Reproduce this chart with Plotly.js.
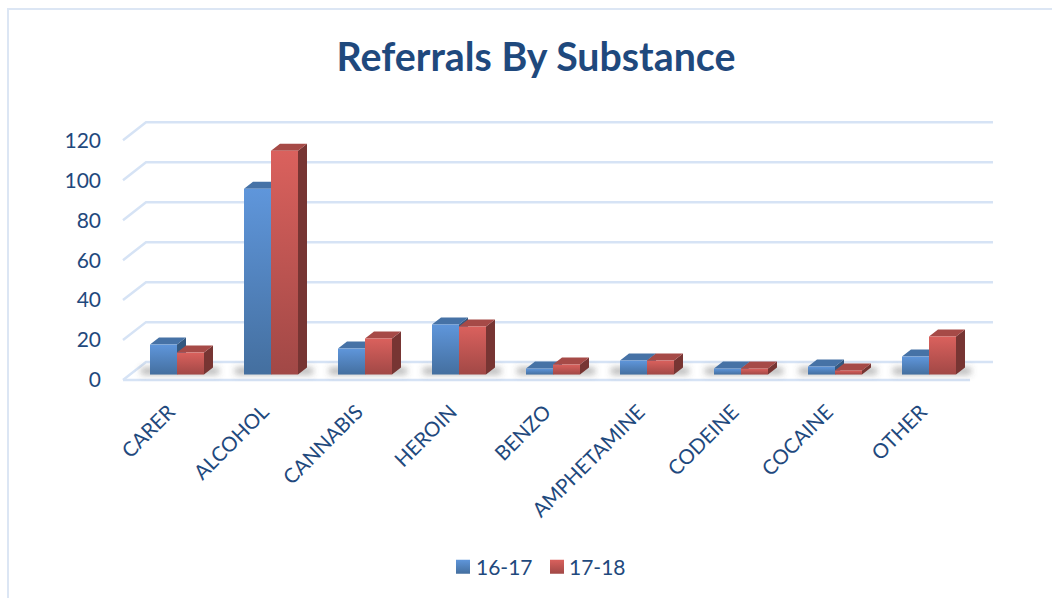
<!DOCTYPE html>
<html>
<head>
<meta charset="utf-8">
<script src="https://cdn.plot.ly/plotly-3.0.1.min.js"></script>
<style>
html,body{margin:0;padding:0;background:#fff;overflow:hidden}
#chart{position:absolute;left:0;top:0;width:1052px;height:598px}
#frame{position:absolute;left:7px;top:8px;right:0;bottom:0;border-top:2px solid #dce6f4;border-left:2px solid #dce6f4;pointer-events:none}
</style>
</head>
<body>
<div id="chart"></div>
<div id="frame"></div>
<script>
const categories = ["CARER","ALCOHOL","CANNABIS","HEROIN","BENZO","AMPHETAMINE","CODEINE","COCAINE","OTHER"];
const values1617 = [15,93,13,25,3,7,3,4,9];
const values1718 = [11,112,18,24,5,7,3,2,19];
const seriesNames = ["16-17","17-18"];
const yTicks = [0,20,40,60,80,100,120];

const W=1052,H=598;
const navy="#1f497d", gridCol="#d6e3f5";
const mL=102,mR=50,mT=100,mB=208;
const plotW=W-mL-mR, plotH=H-mT-mB;
const pxX=94, pxY=2.005;
const cx0=177;
const xr=[(mL-cx0)/pxX,(mL+plotW-cx0)/pxX];
function toX(px){return px/pxX;} function toY(px){return px/pxY;}
const bottomPx=mT+plotH;
function yRange(zeroPx){return [-(bottomPx-zeroPx)/pxY,(zeroPx-mT)/pxY];}
const w=toX(27), dx=toX(9), dy=toY(7);

function polys(vals,k,kind){
  const xs=[],ys=[];
  vals.forEach((v,i)=>{
    const L=i-w+k*w,R=L+w;
    if(kind==='top'){xs.push(L,R,R+dx,L+dx,L,null);ys.push(v,v,v+dy,v+dy,v,null);}
    else{xs.push(R,R,R+dx,R+dx,R,null);ys.push(0,v,v+dy,dy,0,null);}
  });
  return {x:xs,y:ys,type:'scatter',mode:'none',fill:'toself',yaxis:'y2',showlegend:false,hoverinfo:'skip'};
}
const traces=[];
const gx=[],gy=[];
const gLeft=toX(123-cx0), gBack=toX(146-cx0), gRight=toX(993-cx0), gFront=toX(970-cx0), gd=toY(18);
yTicks.forEach(t=>{gx.push(gLeft,gBack,gRight,null);gy.push(t,t+gd,t+gd,null);});
gx.push(gLeft,gFront,null);gy.push(0,0,null);
traces.push({x:gx,y:gy,type:'scatter',mode:'lines',line:{color:gridCol,width:2.5},showlegend:false,hoverinfo:'skip',yaxis:'y'});
// soft floor shadow (blurred after render)
const sx=[],sy=[];
categories.forEach((c,i)=>{sx.push(i-w-toX(9),i+w+toX(15),null);sy.push(toY(3.5),toY(3.5),null);});
traces.push({x:sx,y:sy,type:'scatter',mode:'lines',line:{color:'rgba(80,80,80,0.42)',width:7},showlegend:false,hoverinfo:'skip',yaxis:'y2'});
// depth faces
const a=polys(values1617,0,'side');a.fillcolor='#34587f';traces.push(a);
const b=polys(values1617,0,'top');b.fillcolor='#4672a6';traces.push(b);
const c=polys(values1718,1,'side');c.fillcolor='#773533';traces.push(c);
const d=polys(values1718,1,'top');d.fillcolor='#a64a47';traces.push(d);
// bars
const xIdx=categories.map((_,i)=>i);
traces.push({x:xIdx,y:values1617,name:seriesNames[0],type:'bar',yaxis:'y3',marker:{color:'#5b8fd0'},hoverinfo:'y'});
traces.push({x:xIdx,y:values1718,name:seriesNames[1],type:'bar',yaxis:'y3',marker:{color:'#cc5b57'},hoverinfo:'y'});

const font='Lato, Carlito, "Open Sans", sans-serif';
const layout={
  width:W,height:H,paper_bgcolor:'#fff',plot_bgcolor:'rgba(0,0,0,0)',
  margin:{l:mL,r:mR,t:mT,b:mB,pad:0},
  font:{family:font,color:navy},
  title:{text:'<b>Referrals By Substance</b>',font:{family:font,size:39.3,color:navy},x:536/W,xanchor:'center',y:1-57/H,yanchor:'middle'},
  barmode:'group',bargap:1-54/94,bargroupgap:0,
  xaxis:{range:xr,tickmode:'array',tickvals:xIdx,ticktext:categories,tickangle:-45,ticks:'',showgrid:false,zeroline:false,showline:false,
         tickfont:{family:font,size:20.4,color:navy},ticklabelshift:-8,ticklabelstandoff:6,automargin:false,fixedrange:true},
  yaxis:{range:yRange(381),tickmode:'array',tickvals:yTicks,ticks:'',showgrid:false,zeroline:false,showline:false,
         tickfont:{family:font,size:21,color:navy},automargin:false,fixedrange:true},
  yaxis2:{range:yRange(375.5),overlaying:'y',visible:false,fixedrange:true},
  yaxis3:{range:yRange(375.5),overlaying:'y',visible:false,fixedrange:true},
  showlegend:true,
  legend:{orientation:'h',x:(430-mL)/plotW,xanchor:'left',y:(bottomPx-567)/plotH,yanchor:'middle',font:{family:font,size:21,color:navy},bgcolor:'rgba(0,0,0,0)',itemwidth:30,itemclick:false,itemdoubleclick:false}
};
Plotly.newPlot('chart',traces,layout,{displayModeBar:false,staticPlot:true}).then(gd=>{
  const svg=gd.querySelector('svg.main-svg');
  const NS='http://www.w3.org/2000/svg';
  const defs=svg.querySelector('defs');
  [['g1617','#5f96db','#446f9f'],['g1718','#da615d','#a14846']].forEach(g=>{
    const lg=document.createElementNS(NS,'linearGradient');
    lg.setAttribute('id',g[0]);lg.setAttribute('x1','0');lg.setAttribute('y1','0');lg.setAttribute('x2','0');lg.setAttribute('y2','1');
    [[0,g[1]],[1,g[2]]].forEach(s=>{const st=document.createElementNS(NS,'stop');st.setAttribute('offset',s[0]);st.setAttribute('stop-color',s[1]);lg.appendChild(st);});
    defs.appendChild(lg);
  });
  const fl=document.createElementNS(NS,'filter');
  fl.setAttribute('id','softShadow');fl.setAttribute('filterUnits','userSpaceOnUse');
  fl.setAttribute('x','0');fl.setAttribute('y','0');fl.setAttribute('width',W);fl.setAttribute('height',H);
  const bl=document.createElementNS(NS,'feGaussianBlur');bl.setAttribute('stdDeviation','3');fl.appendChild(bl);
  defs.appendChild(fl);
  gd.querySelectorAll('.scatterlayer .trace path.js-line').forEach(p=>{
    if(p.style.strokeWidth==='7px'||p.style.strokeWidth==='7') p.setAttribute('filter','url(#softShadow)');
  });
  const ids=['g1617','g1718'];
  gd.querySelectorAll('.barlayer .trace').forEach((t,i)=>{t.querySelectorAll('path').forEach(p=>{p.style.fill='url(#'+ids[i]+')';});});
  const legend=gd.querySelector('.legend');
  const lx=parseFloat(legend.getAttribute('transform').match(/translate\(([-\d.]+)/)[1]);
  const centres=[463,557], starts=[476,569];
  gd.querySelectorAll('.legend .traces').forEach((t,i)=>{
    const m=t.getAttribute('transform').match(/translate\(([-\d.]+),\s*([-\d.]+)\)/);
    t.setAttribute('transform','translate('+(centres[i]-20-lx)+','+m[2]+')');
    t.querySelectorAll('.legendpoints path, .legendbar path, path.legendundefined').forEach(p=>{
      p.setAttribute('d','M7,7H-7V-7H7Z');p.style.fill='url(#'+ids[i]+')';p.style.stroke='none';
    });
    const tx=t.querySelector('text.legendtext');
    if(tx) tx.setAttribute('x',starts[i]-(centres[i]-20));
  });
});
</script>
</body>
</html>
